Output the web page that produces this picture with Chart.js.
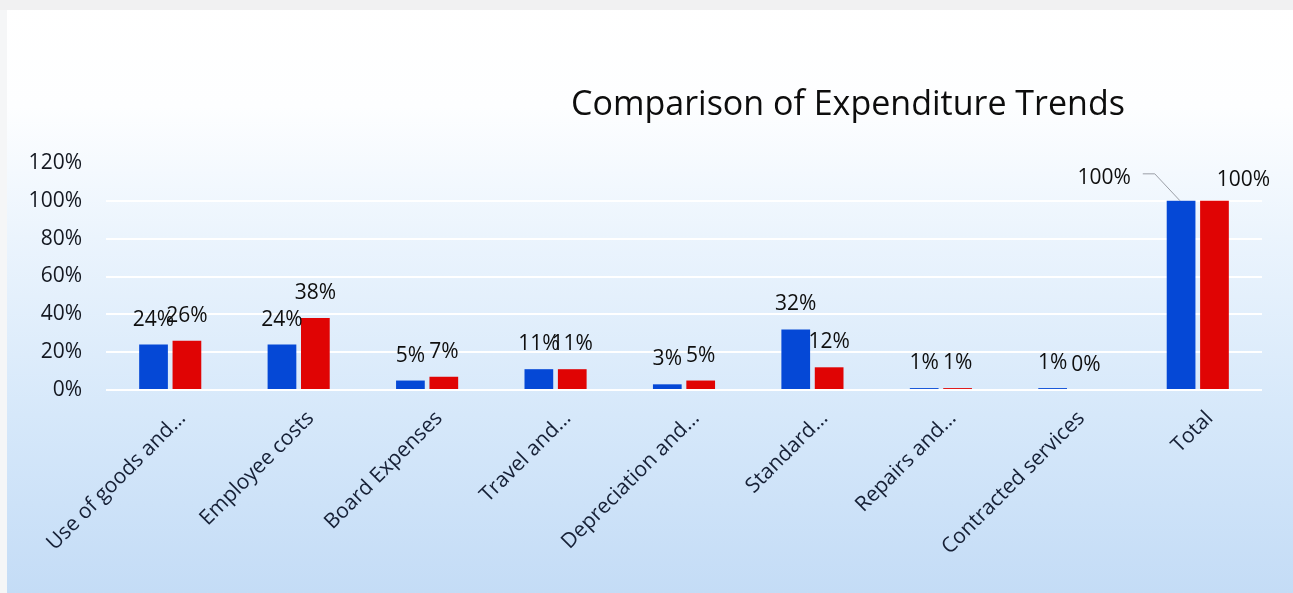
<!DOCTYPE html>
<html>
<head>
<meta charset="utf-8">
<script src="https://cdn.jsdelivr.net/npm/chart.js@4.4.1/dist/chart.umd.min.js"></script>
<style>
  html, body { margin: 0; padding: 0; background: #ffffff; overflow: hidden; }
  #wrap { width: 1293px; height: 593px; position: relative; }
  canvas { display: block; }
</style>
</head>
<body>
<div id="wrap"><canvas id="chart" width="1293" height="593"></canvas></div>
<script>
// Expenditure shares by category (percent of total)
const categories = [
  'Use of goods and…',
  'Employee costs',
  'Board Expenses',
  'Travel and…',
  'Depreciation and…',
  'Standard…',
  'Repairs and…',
  'Contracted services',
  'Total'
];
const previousPeriod = [24, 24, 5, 11, 3, 32, 1, 1, 100];
const currentPeriod  = [26, 38, 7, 11, 5, 12, 1, 0, 100];
const yTickValues = [0, 20, 40, 60, 80, 100, 120];
const chartTitle = 'Comparison of Expenditure Trends';

const FONT = '"Open Sans", "DejaVu Sans", sans-serif';

// Soft white-to-blue backdrop with a faint grey frame at the top and left
const backdrop = {
  id: 'backdrop',
  beforeDraw(chart) {
    const { ctx, width, height } = chart;
    ctx.save();
    const g = ctx.createLinearGradient(0, 0, 0, height);
    g.addColorStop(0.00, '#ffffff');
    g.addColorStop(0.18, '#fdfeff');
    g.addColorStop(0.40, '#ebf4fd');
    g.addColorStop(0.70, '#d6e8fa');
    g.addColorStop(1.00, '#c4dcf6');
    ctx.fillStyle = g;
    ctx.fillRect(0, 0, width, height);
    ctx.fillStyle = '#f1f1f2';
    ctx.fillRect(0, 0, width, 10);
    ctx.fillStyle = '#f5f6f7';
    ctx.fillRect(0, 10, 7, height - 10);
    ctx.restore();
  }
};

// Chart heading, placed right of centre
const heading = {
  id: 'heading',
  afterDraw(chart) {
    const { ctx } = chart;
    ctx.save();
    ctx.font = '34px ' + FONT;
    ctx.fillStyle = '#0d0d0d';
    ctx.textAlign = 'center';
    ctx.textBaseline = 'middle';
    ctx.fillText(chartTitle, 848, 105);
    ctx.restore();
  }
};

// Percentage labels above every bar
const valueLabels = {
  id: 'valueLabels',
  afterDatasetsDraw(chart) {
    const { ctx } = chart;
    const last = chart.data.labels.length - 1;
    ctx.save();
    ctx.font = '21px ' + FONT;
    ctx.fillStyle = '#0f0f0f';
    ctx.textAlign = 'center';
    ctx.textBaseline = 'middle';
    chart.data.datasets.forEach((ds, di) => {
      const meta = chart.getDatasetMeta(di);
      meta.data.forEach((bar, i) => {
        const text = Math.round(ds.data[i]) + '%';
        let x = bar.x;
        let y = bar.y - 25;
        if (i === last && di === 0) {
          // label pulled out to the left with a leader line to the bar top
          x = bar.x - 77;
          y = bar.y - 23;
          const w = ctx.measureText(text).width;
          ctx.save();
          ctx.strokeStyle = '#9a9ea6';
          ctx.lineWidth = 1;
          ctx.beginPath();
          ctx.moveTo(x + w / 2 + 12, y - 4);
          ctx.lineTo(x + w / 2 + 24, y - 4);
          ctx.lineTo(bar.x - 1, bar.y);
          ctx.stroke();
          ctx.restore();
        } else if (i === last && di === 1) {
          x = bar.x + 29;
          y = bar.y - 21;
        }
        ctx.fillText(text, x, y);
      });
    });
    ctx.restore();
  }
};

new Chart(document.getElementById('chart'), {
  type: 'bar',
  data: {
    labels: categories,
    datasets: [
      {
        label: 'Previous period',
        data: previousPeriod,
        backgroundColor: '#0548d6',
        categoryPercentage: 0.52,
        barPercentage: 0.86
      },
      {
        label: 'Current period',
        data: currentPeriod,
        backgroundColor: '#e00404',
        categoryPercentage: 0.52,
        barPercentage: 0.86
      }
    ]
  },
  options: {
    responsive: false,
    animation: false,
    devicePixelRatio: 1,
    layout: { padding: { left: 8, right: 31, top: 163, bottom: 0 } },
    plugins: {
      legend: { display: false },
      title: { display: false },
      tooltip: { enabled: false }
    },
    scales: {
      x: {
        grid: { display: false },
        border: { display: false },
        ticks: {
          minRotation: 45,
          maxRotation: 45,
          autoSkip: false,
          padding: 8,
          labelOffset: 12,
          color: '#162036',
          font: { family: FONT, size: 21 }
        },
        afterFit(scale) { scale.height = 203; }
      },
      y: {
        min: 0,
        max: 120,
        afterBuildTicks(scale) {
          scale.ticks = yTickValues.map(v => ({ value: v }));
        },
        grid: {
          color: ctx => (ctx.tick && ctx.tick.value === 120) ? 'rgba(0,0,0,0)' : '#ffffff',
          lineWidth: 2,
          drawTicks: false
        },
        border: { display: false },
        ticks: {
          padding: 24,
          color: '#141821',
          font: { family: FONT, size: 21 },
          callback: v => v + '%'
        },
        afterFit(scale) { scale.width = 98; }
      }
    }
  },
  plugins: [backdrop, heading, valueLabels]
});
</script>
</body>
</html>
